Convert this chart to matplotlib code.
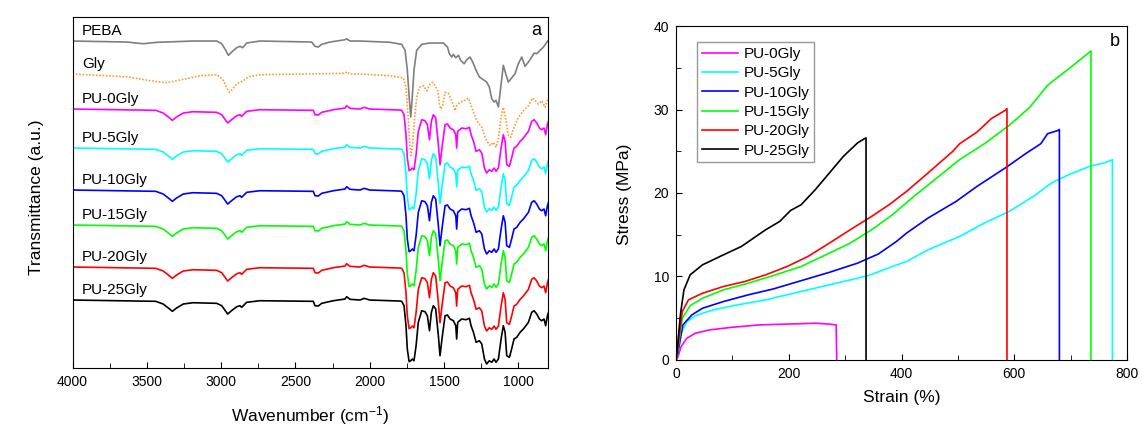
import matplotlib
matplotlib.use('Agg')
import matplotlib.pyplot as plt
from matplotlib.ticker import MultipleLocator

plt.rcParams['font.family'] = ['Liberation Sans', 'DejaVu Sans']
plt.rcParams['mathtext.default'] = 'regular'

# ---------------- panel a: FTIR spectra ----------------
# wavenumber (cm-1) and transmittance change relative to each curve's baseline (a.u.)
peba_wn = [4000, 3636, 3523, 3434, 3187, 3030, 2996, 2969, 2951, 2929, 2895, 2873, 2855, 2828,
           2738, 2391, 2368, 2346, 2323, 2267, 2166, 2155, 2133, 2065, 1863, 1785, 1762, 1747,
           1733, 1724, 1715, 1702, 1684, 1650, 1594, 1504, 1477, 1464, 1448, 1437, 1421, 1403,
           1388, 1365, 1347, 1325, 1307, 1284, 1262, 1235, 1213, 1195, 1179, 1163, 1150, 1134,
           1118, 1101, 1085, 1067, 1049, 1022, 1000, 977, 955, 932, 910, 894, 876, 854, 831,
           809, 796]
peba_val = [0, -1, -2.7, -1.3, 0, 0, -2.7, -9.3, -14.3, -11, -6.7, -5.3, -6.7, -2,
            0, -1, -5.3, -6, -3.3, -1, 1.3, 2.3, 0, 0, -1.3, -3.3, -9.3, -29,
            -59, -76, -59, -29, -9.3, -3.3, -2, -2, -6, -12.7, -16, -13.3, -16.7, -14.3,
            -19.3, -22.7, -18.7, -16, -21, -29.3, -36, -38.7, -41, -46, -57.7, -61, -59.3, -66,
            -46, -24.3, -32.7, -41, -37.7, -32.7, -22.7, -16, -25.3, -21, -16, -12, -12.7, -9.3, -6,
            -1.3, 1.3]

gly_wn = [4000, 3636, 3478, 3366, 3277, 3142, 3030, 2990, 2963, 2945, 2922, 2895, 2873, 2850,
          2817, 2738, 2166, 2155, 2133, 2065, 1863, 1773, 1756, 1740, 1729, 1722, 1711, 1700,
          1684, 1666, 1639, 1616, 1594, 1576, 1560, 1542, 1531, 1522, 1509, 1493, 1471, 1448,
          1426, 1415, 1392, 1358, 1336, 1314, 1280, 1246, 1224, 1206, 1186, 1168, 1150, 1134,
          1116, 1101, 1083, 1067, 1051, 1029, 1000, 966, 932, 903, 888, 865, 843, 820, 804, 796]
gly_val = [0, -2.7, -6.7, -8.7, -6, -1.7, -0.7, -5, -13.3, -18.3, -15, -10, -8.3, -6.7,
           -2.7, -0.7, 0.7, 2.3, 0, 0, -1.7, -4, -13.3, -46.7, -73.3, -81.7, -70, -46.7,
           -23.3, -13.3, -11.7, -16.7, -10, -8.3, -11.7, -16.7, -30, -35, -31.7, -18.3, -19.3, -26.7,
           -36.7, -31.7, -28.3, -26, -24, -33.3, -46.7, -53.3, -63.3, -68.3, -71.7, -68.3, -73.3, -65,
           -43.3, -33.3, -46.7, -61.7, -63.3, -53.3, -43.3, -36.7, -31.7, -24, -26.7, -30, -26.7, -33.3, -26, -24]

# the PU films all share the same band pattern
pu_wn = [4000, 3440, 3390, 3355, 3328, 3300, 3255, 3190, 3030, 2996, 2975, 2956, 2930, 2895,
         2873, 2862, 2828, 2740, 2380, 2368, 2346, 2323, 2245, 2166, 2155, 2133, 2065, 2038,
         2000, 1800, 1785, 1769, 1756, 1747, 1735, 1724, 1713, 1702, 1688, 1673, 1650, 1628,
         1612, 1598, 1585, 1572, 1556, 1538, 1527, 1511, 1493, 1477, 1459, 1437, 1421, 1415,
         1408, 1381, 1352, 1329, 1318, 1302, 1284, 1262, 1246, 1228, 1213, 1195, 1179, 1163,
         1150, 1134, 1116, 1101, 1089, 1078, 1060, 1045, 1029, 1011, 988, 966, 932, 910, 894,
         876, 858, 843, 827, 816, 804, 796]
pu_val = [0, -1.3, -4, -8, -11.3, -8, -4, -2.7, -3.3, -5.7, -10, -14, -10.7, -6.7,
          -5.7, -7.3, -2.3, -0.7, -1.3, -5.7, -6, -3.3, -0.7, 1, 3.3, 0.7, 0, 1.7,
          0, -1, -1.3, -5.7, -25.7, -49, -61.7, -60.7, -59, -60.7, -45.7, -22.3, -10.7, -11.7,
          -15.7, -30.7, -12.3, -5.7, -9, -35.7, -55.7, -35.7, -15.7, -15, -19, -20.7, -25.7, -39,
          -22.3, -19, -19.7, -18.3, -25.7, -32.3, -42.3, -40.7, -44, -59, -64, -60.7, -62.3, -59,
          -62.3, -59, -39, -25.7, -32.3, -55.7, -57.3, -49, -39, -37.3, -32.3, -29, -22.3, -12.3, -10.7,
          -14, -19, -20.7, -19, -25.7, -15.7, -12]

ftir_names = ['PEBA', 'Gly', 'PU-0Gly', 'PU-5Gly', 'PU-10Gly', 'PU-15Gly', 'PU-20Gly', 'PU-25Gly']
ftir_offsets = [327, 294, 259, 220, 178, 143, 101, 68]

# ---------------- panel b: stress-strain curves ----------------
names_b = ['PU-0Gly', 'PU-5Gly', 'PU-10Gly', 'PU-15Gly', 'PU-20Gly', 'PU-25Gly']
strain_0 = [0, 3, 9, 19, 34, 59, 97, 147, 197, 247, 272, 284, 285]
stress_0 = [0, 0.3, 1.6, 2.6, 3.2, 3.6, 3.9, 4.2, 4.3, 4.4, 4.3, 4.2, 0]
strain_5 = [0, 3, 9, 19, 34, 66, 109, 159, 209, 259, 297, 341, 384, 409, 447, 503, 547, 591, 634,
            666, 697, 734, 759, 772, 774, 774]
stress_5 = [0, 0.6, 3.2, 4.6, 5.3, 6.0, 6.6, 7.2, 8.0, 8.8, 9.4, 10.1, 11.2, 11.8, 13.2, 14.8, 16.4,
            17.8, 19.6, 21.2, 22.2, 23.2, 23.6, 23.9, 24.0, 0]
strain_10 = [0, 3, 12, 28, 47, 84, 128, 172, 222, 272, 322, 359, 391, 409, 447, 497, 534, 584, 622,
             647, 659, 678, 680, 680]
stress_10 = [0, 0.8, 4.2, 5.4, 6.2, 7.0, 7.8, 8.5, 9.5, 10.5, 11.6, 12.7, 14.2, 15.2, 17.0, 19.0, 20.8,
             23.0, 24.8, 25.9, 27.1, 27.5, 27.6, 0]
strain_15 = [0, 3, 11, 25, 47, 84, 128, 172, 222, 272, 309, 347, 384, 422, 459, 503, 547, 591, 628,
             659, 697, 734, 736, 736]
stress_15 = [0, 1.2, 5.0, 6.5, 7.4, 8.4, 9.2, 10.1, 11.2, 12.8, 14.0, 15.6, 17.4, 19.6, 21.6, 24.0,
             25.9, 28.1, 30.3, 32.9, 34.9, 36.9, 37.0, 0]
strain_20 = [0, 3, 11, 22, 47, 84, 122, 159, 197, 234, 272, 309, 347, 378, 409, 447, 491, 503, 534,
             559, 584, 587, 587]
stress_20 = [0, 1.4, 5.8, 7.2, 8.0, 8.8, 9.4, 10.2, 11.2, 12.4, 14.0, 15.6, 17.2, 18.6, 20.2, 22.4,
             25.0, 25.9, 27.3, 28.9, 29.9, 30.1, 0]
strain_25 = [0, 3, 8, 14, 25, 47, 78, 116, 159, 184, 203, 222, 247, 272, 297, 322, 334, 337, 337]
stress_25 = [0, 2.0, 5.6, 8.4, 10.2, 11.4, 12.4, 13.6, 15.6, 16.6, 17.9, 18.6, 20.4, 22.4, 24.4,
             26.0, 26.5, 26.6, 0]

colors_pu = ['#ff00ff', '#00ffff', '#0000ff', '#00ff00', '#ff0000', '#000000']

fig = plt.figure(figsize=(11.42, 4.32), dpi=100)
ax1 = fig.add_axes([0.0635, 0.1481, 0.4164, 0.8118])
ax2 = fig.add_axes([0.592, 0.1667, 0.3949, 0.7731])

# panel a
ax1.plot(peba_wn, [v + ftir_offsets[0] for v in peba_val], color='#7f7f7f', lw=1.2)
ax1.plot(gly_wn, [v + ftir_offsets[1] for v in gly_val], color='#ff9933', lw=1.2, ls=(0, (1, 1)))
for off, c in zip(ftir_offsets[2:], colors_pu):
    ax1.plot(pu_wn, [v + off for v in pu_val], color=c, lw=1.2)
for name, off in zip(ftir_names, ftir_offsets):
    ax1.text(3935, off + 6, name, fontsize=11, va='baseline', ha='left')

ax1.set_xlim(4000, 800)
ax1.set_ylim(0, 350.7)
ax1.xaxis.set_major_locator(MultipleLocator(500))
ax1.xaxis.set_minor_locator(MultipleLocator(250))
ax1.set_yticks([])
ax1.tick_params(axis='x', which='both', direction='in', labelsize=10, pad=5)
ax1.tick_params(axis='x', which='major', length=4)
ax1.tick_params(axis='x', which='minor', length=3.5)
ax1.set_xlabel('Wavenumber (cm$^{-1}$)', fontsize=12.5)
ax1.set_ylabel('Transmittance (a.u.)', fontsize=12.5)
ax1.xaxis.set_label_coords(0.5, -0.103)
ax1.yaxis.set_label_coords(-0.059, 0.486)
ax1.text(0.985, 0.962, 'a', transform=ax1.transAxes, fontsize=13, ha='right', va='center')

# panel b
curves = [(strain_0, stress_0), (strain_5, stress_5), (strain_10, stress_10),
          (strain_15, stress_15), (strain_20, stress_20), (strain_25, stress_25)]
for (sx, sy), c, name in zip(curves, colors_pu, names_b):
    ax2.plot(sx, sy, color=c, lw=1.2, label=name)

ax2.set_xlim(0, 800)
ax2.set_ylim(0, 40)
ax2.xaxis.set_major_locator(MultipleLocator(200))
ax2.xaxis.set_minor_locator(MultipleLocator(100))
ax2.yaxis.set_major_locator(MultipleLocator(10))
ax2.yaxis.set_minor_locator(MultipleLocator(5))
ax2.tick_params(which='both', direction='in', labelsize=10, pad=5)
ax2.tick_params(which='major', length=4)
ax2.tick_params(which='minor', length=3.5)
ax2.set_xlabel('Strain (%)', fontsize=12.5)
ax2.set_ylabel('Stress (MPa)', fontsize=12.5)
ax2.xaxis.set_label_coords(0.5, -0.09)
ax2.yaxis.set_label_coords(-0.098, 0.497)
ax2.text(0.985, 0.955, 'b', transform=ax2.transAxes, fontsize=13, ha='right', va='center')

leg = ax2.legend(loc='upper left', bbox_to_anchor=(0.047, 0.951), fontsize=11, frameon=True,
                 fancybox=False, edgecolor='#808080', borderaxespad=0, borderpad=0.3,
                 labelspacing=0.35, handlelength=2.35, handletextpad=0.37)
leg.get_frame().set_linewidth(1.0)

fig.savefig('out.png', dpi=100)
